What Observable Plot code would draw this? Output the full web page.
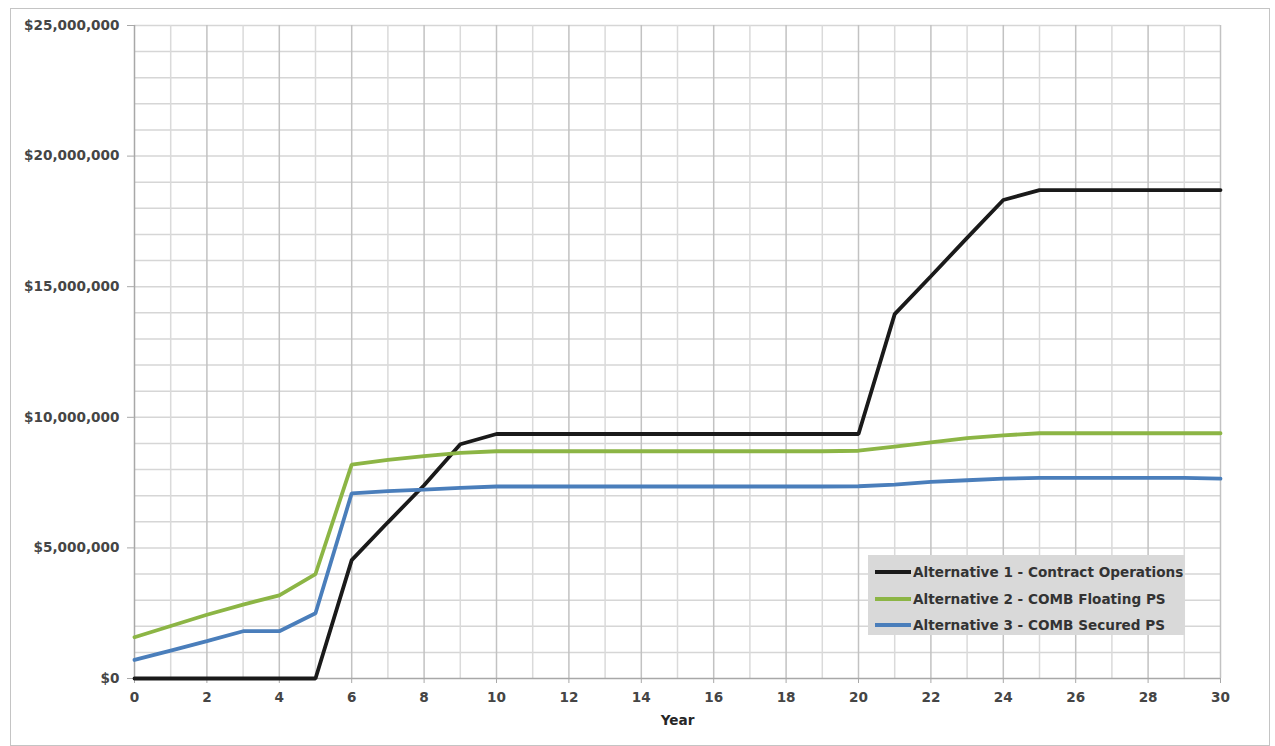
<!DOCTYPE html>
<html>
<head>
<meta charset="utf-8">
<script src="https://cdn.jsdelivr.net/npm/d3@7"></script>
<script src="https://cdn.jsdelivr.net/npm/@observablehq/plot@0.6"></script>
<style>
  html, body { margin: 0; padding: 0; background: #fff; }
  body { position: relative; width: 1275px; height: 746px; overflow: hidden; font-family: "DejaVu Sans", sans-serif; }
  #frame { position: absolute; left: 10px; top: 8px; width: 1260px; height: 738px; border: 1px solid #c4c4c4; box-sizing: border-box; }
  #chart { position: absolute; left: 0; top: 0; }
  #chart svg [aria-label="x-axis label"] text { fill: #262626; }
  #legend { position: absolute; left: 868px; top: 555px; width: 317px; height: 80px; background: #d9d9d9; box-sizing: border-box; padding-top: 4px; }
  .item { display: flex; align-items: center; height: 26.5px; font-size: 13.6px; font-weight: 700; color: #333; white-space: nowrap; }
  .swatch { width: 36px; height: 4px; margin-left: 7px; margin-right: 2px; flex: none; }
</style>
</head>
<body>
<div id="frame"></div>
<div id="chart"></div>
<div id="legend"></div>
<script>
// Cumulative cost by year for each alternative (dollars)
const years = [0, 1, 2, 3, 4, 5, 6, 7, 8, 9, 10, 11, 12, 13, 14, 15, 16, 17, 18, 19, 20,
               21, 22, 23, 24, 25, 26, 27, 28, 29, 30];

const alt1 = [0, 0, 0, 0, 0, 0, 4530000, 5980000, 7400000, 8970000, 9360000,
              9360000, 9360000, 9360000, 9360000, 9360000, 9360000, 9360000, 9360000, 9360000, 9360000,
              13950000, 15400000, 16870000, 18320000, 18700000, 18700000, 18700000, 18700000, 18700000, 18700000];

const alt2 = [1580000, 2010000, 2440000, 2830000, 3180000, 4000000, 8190000, 8370000, 8510000, 8640000, 8700000,
              8700000, 8700000, 8700000, 8700000, 8700000, 8700000, 8700000, 8700000, 8700000, 8720000,
              8880000, 9040000, 9200000, 9310000, 9390000, 9390000, 9390000, 9390000, 9390000, 9390000];

const alt3 = [710000, 1070000, 1430000, 1810000, 1810000, 2500000, 7090000, 7170000, 7230000, 7300000, 7350000,
              7350000, 7350000, 7350000, 7350000, 7350000, 7350000, 7350000, 7350000, 7350000, 7360000,
              7420000, 7530000, 7590000, 7650000, 7680000, 7680000, 7680000, 7680000, 7680000, 7650000];

const seriesNames = ["Alternative 1 - Contract Operations", "Alternative 2 - COMB Floating PS", "Alternative 3 - COMB Secured PS"];
const seriesColors = ["#1a1a1a", "#8cb545", "#4a7ebb"];
const seriesValues = [alt1, alt2, alt3];

const yTicks = [0, 5000000, 10000000, 15000000, 20000000, 25000000];
const yGrid = [1000000, 2000000, 3000000, 4000000, 5000000, 6000000, 7000000, 8000000, 9000000, 10000000,
               11000000, 12000000, 13000000, 14000000, 15000000, 16000000, 17000000, 18000000, 19000000, 20000000,
               21000000, 22000000, 23000000, 24000000, 25000000];
const xTicks = [0, 2, 4, 6, 8, 10, 12, 14, 16, 18, 20, 22, 24, 26, 28, 30];

const rows = seriesNames.flatMap((name, i) =>
  years.map((year, j) => ({ series: name, year, cost: seriesValues[i][j] })));

const chart = Plot.plot({
  width: 1275,
  height: 746,
  marginLeft: 134,
  marginRight: 55,
  marginTop: 25,
  marginBottom: 68,
  style: { fontFamily: "DejaVu Sans, sans-serif", fontSize: "13.6px", fontWeight: 700, color: "#454545", background: "transparent" },
  x: { domain: [0, 30] },
  y: { domain: [0, 25000000] },
  color: { domain: seriesNames, range: seriesColors },
  marks: [
    Plot.ruleY(yGrid, { stroke: "#d6d6d6", strokeWidth: 1.5 }),
    Plot.ruleX(years.filter(d => d % 2 === 1), { stroke: "#dadada", strokeWidth: 1.5 }),
    Plot.ruleX(years.filter(d => d % 2 === 0 && d > 0), { stroke: "#c2c2c2", strokeWidth: 1.5 }),
    Plot.ruleX([0], { stroke: "#a8a8a8", strokeWidth: 1.5 }),
    Plot.ruleY([0], { stroke: "#a8a8a8", strokeWidth: 1.5 }),
    Plot.axisY({ ticks: yTicks, tickFormat: d3.format("$,"), tickSize: 7, tickPadding: 8, stroke: "#a8a8a8", label: null }),
    Plot.axisX({ ticks: xTicks, tickSize: 5, tickPadding: 9, stroke: "#a8a8a8", label: "Year", labelArrow: "none", labelAnchor: "center", labelOffset: 46 }),
    Plot.line(rows, { x: "year", y: "cost", z: "series", stroke: "series", strokeWidth: 3.8, strokeLinejoin: "miter" })
  ]
});
document.getElementById("chart").append(chart);

// Legend box
const legend = d3.select("#legend");
seriesNames.forEach((name, i) => {
  const item = legend.append("div").attr("class", "item");
  item.append("div").attr("class", "swatch").style("background", seriesColors[i]);
  item.append("span").text(name);
});
</script>
</body>
</html>
